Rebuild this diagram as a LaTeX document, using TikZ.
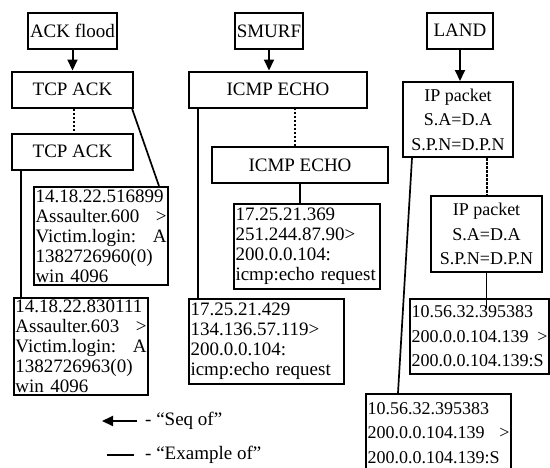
\documentclass[tikz,border=0pt]{standalone}
\usepackage{fontspec}
\setmainfont{Liberation Serif}
\usetikzlibrary{arrows.meta, positioning}
\newcommand{\pktfont}{\fontsize{19}{20}\selectfont}
\newcommand{\wideskip}{\fontsize{18}{24.5}\selectfont}

\begin{document}
\begin{tikzpicture}[x=1pt, y=-1pt, >={Triangle[width=10pt,length=11pt]}, font=\pktfont,
  hd/.style={draw, line width=2pt, align=center, inner sep=1pt, minimum height=36pt},
  rec/.style={draw, line width=2pt, anchor=north west, align=left, inner xsep=1.5pt, inner ysep=1pt},
  ex/.style={line width=1.7pt},
  sq/.style={line width=2pt, ->},
  cont/.style={line width=2pt, dash pattern=on 2.5pt off 1.5pt}]
\useasboundingbox (0,0) rectangle (550,467);
% attack names
\node[hd, minimum width=89pt] (ackflood) at (72.5,30.5) {ACK flood};
\node[hd, minimum width=68pt] (smurf) at (269,31) {SMURF};
\node[hd, minimum width=66pt] (land) at (460,30.5) {LAND};
% packet kinds
\node[hd, minimum width=121pt, below=21pt of ackflood] (tcpa) {TCP ACK};
\node[hd, minimum width=121pt, below=24pt of tcpa] (tcpb) {TCP ACK};
\node[hd, minimum width=178pt] (icmpa) at (278,89.5) {ICMP ECHO};
\node[hd, minimum width=176pt] (icmpb) at (300,165) {ICMP ECHO};
\node[hd, minimum width=110pt, minimum height=75pt, font=\wideskip] (ipa) at (458,119.5) {IP packet\\ S.A=D.A\\ S.P.N=D.P.N};
\node[hd, minimum width=111pt, minimum height=76pt, font=\wideskip] (ipb) at (486.5,234) {IP packet\\ S.A=D.A\\ S.P.N=D.P.N};
% packet records
\node[rec, text width=131pt, minimum height=98pt] (pkta) at (33,186) {14.18.22.516899\\ Assaulter.600\hfill>\\ Victim.login:\hfill A\\ 1382726960(0)\\ win 4096};
\node[rec, text width=131pt, minimum height=97pt] (pktb) at (13,297) {14.18.22.830111\\ Assaulter.603\hfill>\\ Victim.login:\hfill A\\ 1382726963(0)\\ win 4096};
\node[rec, text width=143pt, minimum height=85pt] (pktc) at (233,203) {17.25.21.369\\ 251.244.87.90>\\ 200.0.0.104:\\ \mbox{icmp:echo request}};
\node[rec, text width=152pt, minimum height=85pt] (pktd) at (188,298) {17.25.21.429\\ 134.136.57.119>\\ 200.0.0.104:\\ \mbox{icmp:echo request}};
\node[rec, text width=136pt, minimum height=75pt, font=\wideskip] (pkte) at (409,298) {10.56.32.395383\\ 200.0.0.104.139\hfill>\\ 200.0.0.104.139:S};
\node[rec, text width=142pt, minimum height=78pt, font=\wideskip] (pktf) at (365,393) {10.56.32.395383\\ 200.0.0.104.139\hfill>\\ 200.0.0.104.139:S};
% seq of
\draw[sq] (ackflood) -- (tcpa);
\draw[sq] (smurf.south) -- (smurf.south |- icmpa.north);
\draw[sq] (land.south) -- (land.south |- ipa.north);
% continued
\draw[cont] ([xshift=1.5pt]tcpa.south) -- ([xshift=1.5pt]tcpb.north);
\draw[cont] ([xshift=-5pt]icmpb.north) -- ([xshift=-5pt]icmpb.north |- icmpa.south);
\draw[cont] ([xshift=0.5pt]ipb.north |- ipa.south) -- ([xshift=0.5pt]ipb.north);
% example of
\draw[ex] ([xshift=-2pt]tcpa.south east) -- ([xshift=-10pt]pkta.north east);
\draw[ex] ([xshift=10pt]tcpb.south west) -- ([xshift=10pt]tcpb.south west |- pktb.north);
\draw[ex] (icmpb.south) -- (icmpb.south |- pktc.north);
\draw[ex] ([xshift=10pt]icmpa.south west) -- ([xshift=10pt]icmpa.south west |- pktd.north);
\draw[ex] (ipb.south) -- ([yshift=-10pt]ipb.south |- pkte.north);
\draw[ex] ([xshift=10pt]ipa.south west) -- ([xshift=33pt]pktf.north west);
% legend
\coordinate (seqr) at (137,421);
\coordinate (seql) at (102,421);
\draw[sq] (seqr) -- (seql);
\node[anchor=west, inner sep=0pt] (seqtxt) at (145,421) {- “Seq of”};
\coordinate (exl) at (107,455);
\coordinate (exr) at (134,455);
\draw[ex] (exl) -- (exr);
\node[anchor=west, inner sep=0pt] (extxt) at (145,455) {- “Example of”};
\end{tikzpicture}
\end{document}
